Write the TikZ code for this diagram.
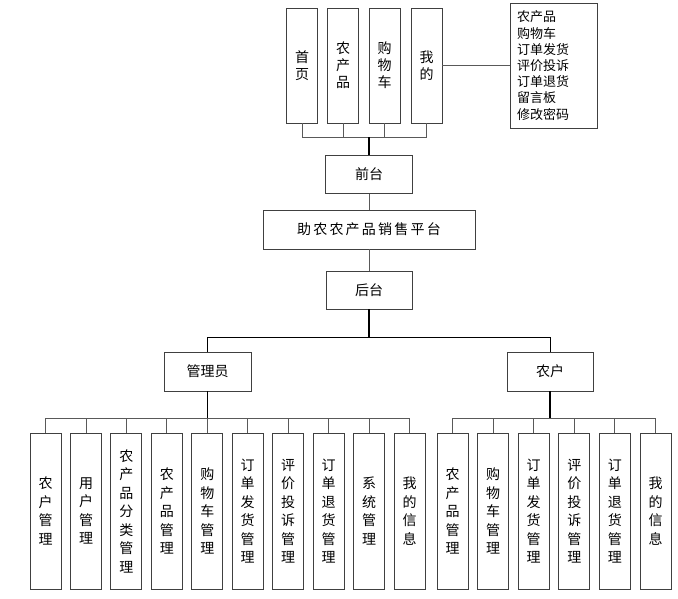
\documentclass[tikz,border=0pt]{standalone}
\usepackage{fontspec}
\newfontfamily\cjk{Noto Sans CJK SC}
\newfontfamily\cjkwide[LetterSpace=16]{Noto Sans CJK SC}
\begin{document}
\begin{tikzpicture}[x=1pt, y=-1pt,
                    hbox/.style = {shape = rectangle,
                                   draw = black!75,
                                   line width = 0.9pt,
                                   inner sep = 0pt,
                                   minimum height = 38pt,
                                   font = \cjk\fontsize{14}{17}\selectfont},
                    vbox/.style = {hbox,
                                   align = center,
                                   minimum width = 31pt,
                                   minimum height = 156pt,
                                   font = \cjk\fontsize{14}{18.5}\selectfont},
                    tbox/.style = {vbox,
                                   minimum height = 115pt,
                                   font = \cjk\fontsize{14}{17}\selectfont},
                    thin/.style = {draw = black!65, line width = 0.9pt},
                    trunk/.style = {draw = black, line width = 1.6pt}]
		\useasboundingbox (0,0) rectangle (678,598);
		% front end
		\node[tbox] (t1) at (302,65.5) {首\\页};
		\node[tbox] (t2) at (343,65.5) {农\\产\\品};
		\node[tbox] (t3) at (384.5,65.5) {购\\物\\车};
		\node[tbox] (t4) at (426.5,65.5) {我\\的};
		\node[hbox, minimum height = 125pt, text width = 73pt, inner xsep = 7pt,
		      align = left, font = \cjk\fontsize{13}{16.2}\selectfont] (menu) at (553.5,65.5)
		      {农产品\\购物车\\订单发货\\评价投诉\\订单退货\\留言板\\修改密码};
		\coordinate (tbus) at (369,137);
		\node[hbox, minimum width = 87pt] (front) at (369,174.5) {前台};
		\node[hbox, minimum width = 212pt, minimum height = 39pt,
		      font = \cjkwide\fontsize{14}{17}\selectfont] (platform) at (369,229.5) {助农农产品销售平台};
		\node[hbox, minimum width = 86pt] (back) at (369,290) {后台};
		\coordinate (bbus) at (369,337);
		% back end
		\node[hbox, minimum width = 87pt, minimum height = 39pt] (admin) at (207.5,371.5) {管理员};
		\node[hbox, minimum width = 86pt, minimum height = 39pt] (farmer) at (550,371.5) {农户};
		\coordinate (abus) at (207.5,418);
		\coordinate (fbus) at (550,418);
		\node[vbox] (a1) at (45.5,511) {农\\户\\管\\理};
		\node[vbox] (a2) at (86,511) {用\\户\\管\\理};
		\node[vbox] (a3) at (126.4,511) {农\\产\\品\\分\\类\\管\\理};
		\node[vbox] (a4) at (166.8,511) {农\\产\\品\\管\\理};
		\node[vbox] (a5) at (207.3,511) {购\\物\\车\\管\\理};
		\node[vbox] (a6) at (247.7,511) {订\\单\\发\\货\\管\\理};
		\node[vbox] (a7) at (288.1,511) {评\\价\\投\\诉\\管\\理};
		\node[vbox] (a8) at (328.6,511) {订\\单\\退\\货\\管\\理};
		\node[vbox] (a9) at (369,511) {系\\统\\管\\理};
		\node[vbox] (a10) at (409.5,511) {我\\的\\信\\息};
		\node[vbox] (f1) at (452.5,511) {农\\产\\品\\管\\理};
		\node[vbox] (f2) at (493.1,511) {购\\物\\车\\管\\理};
		\node[vbox] (f3) at (533.7,511) {订\\单\\发\\货\\管\\理};
		\node[vbox] (f4) at (574.3,511) {评\\价\\投\\诉\\管\\理};
		\node[vbox] (f5) at (614.9,511) {订\\单\\退\\货\\管\\理};
		\node[vbox] (f6) at (655.5,511) {我\\的\\信\\息};
		% connectors
		\draw[thin] (tbus) -| (t1.south);
		\draw[thin] (tbus) -| (t2.south);
		\draw[thin] (tbus) -| (t3.south);
		\draw[thin] (tbus) -| (t4.south);
		\draw[trunk] (tbus) -- (front.north);
		\draw[thin] (t4.east) -- (menu.west);
		\draw[thin] (front.south) -- (platform.north);
		\draw[thin] (platform.south) -- (back.north);
		\draw[trunk] (back.south) -- (bbus);
		\draw[thin, draw = black] (bbus) -| (admin.north);
		\draw[thin, draw = black] (bbus) -| (farmer.north);
		\draw[trunk] (admin.south) -- (abus);
		\draw[trunk] (farmer.south) -- (fbus);
		\draw[thin] (abus) -| (a1.north);
		\draw[thin] (abus) -| (a2.north);
		\draw[thin] (abus) -| (a3.north);
		\draw[thin] (abus) -| (a4.north);
		\draw[thin] (abus) -| (a5.north);
		\draw[thin] (abus) -| (a6.north);
		\draw[thin] (abus) -| (a7.north);
		\draw[thin] (abus) -| (a8.north);
		\draw[thin] (abus) -| (a9.north);
		\draw[thin] (abus) -| (a10.north);
		\draw[thin] (fbus) -| (f1.north);
		\draw[thin] (fbus) -| (f2.north);
		\draw[thin] (fbus) -| (f3.north);
		\draw[thin] (fbus) -| (f4.north);
		\draw[thin] (fbus) -| (f5.north);
		\draw[thin] (fbus) -| (f6.north);
	\end{tikzpicture}
\end{document}
